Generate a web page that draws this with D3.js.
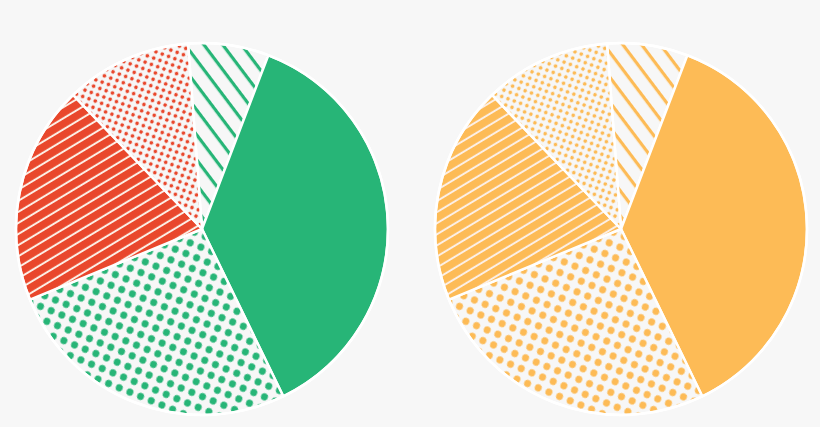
<!DOCTYPE html>
<html>
<head>
<meta charset="utf-8">
<script src="https://cdn.jsdelivr.net/npm/d3@7"></script>
<style>
  body { margin: 0; background: #f7f7f7; }
  svg { display: block; }
</style>
</head>
<body>
<svg class="main"></svg>
<script>
// slice data, clockwise from just left of 12 o'clock
let sliceNames = ["thinStripes", "solid", "bigDots", "wideStripes", "smallDots"],
    leftValues = [7, 37, 26, 19, 11],
    rightValues = [7, 37, 26, 19, 11],
    leftColors = ["#27b577", "#27b577", "#27b577", "#e9472c", "#e9472c"],
    rightColors = ["#fdbb56", "#fdbb56", "#fdbb56", "#fdbb56", "#fdbb56"];

let w = 820, h = 427, r = 186, bg = "#f7f7f7";

let svg = d3.select('.main')
    .attr("width", w)
    .attr("height", h)
    .style('background-color', bg)

let defs = svg.append('defs')

// one pattern per kind + colour
let makePattern = (kind, color) => {
    let id = kind + color.replace('#', '');
    if (!defs.select('#' + id).empty()) return id;
    let p = defs.append('pattern')
        .attr('id', id)
        .attr('patternUnits', 'userSpaceOnUse');
    if (kind === "thinStripes") {
        p.attr('width', 15).attr('height', 15).attr('patternTransform', 'rotate(53)')
        p.append('rect').attr('width', 15).attr('height', 15).attr('fill', bg)
        p.append('rect').attr('y', 6).attr('width', 15).attr('height', 3.2).attr('fill', color)
    } else if (kind === "wideStripes") {
        p.attr('width', 9.5).attr('height', 9.5).attr('patternTransform', 'rotate(-31)')
        p.append('rect').attr('width', 9.5).attr('height', 9.5).attr('fill', color)
        p.append('rect').attr('y', 3.7).attr('width', 9.5).attr('height', 2).attr('fill', '#fcefe6')
    } else if (kind === "bigDots") {
        p.attr('width', 11.5).attr('height', 11.5).attr('patternTransform', 'rotate(22)')
        p.append('rect').attr('width', 11.5).attr('height', 11.5).attr('fill', bg)
        p.append('circle').attr('cx', 5.75).attr('cy', 5.75).attr('r', 3.5).attr('fill', color)
    } else if (kind === "smallDots") {
        p.attr('width', 6.7).attr('height', 6.7).attr('patternTransform', 'rotate(20)')
        p.append('rect').attr('width', 6.7).attr('height', 6.7).attr('fill', bg)
        p.append('circle').attr('cx', 3.35).attr('cy', 3.35).attr('r', 1.8).attr('fill', color)
    }
    return id;
}

let start = -4.3 * Math.PI / 180;

let pie = d3.pie()
    .sort(null)
    .value(d => d.value)
    .startAngle(start)
    .endAngle(start + 2 * Math.PI)

let arc = d3.arc().innerRadius(0).outerRadius(r)

let drawPie = (cx, cy, values, colors) => {
    let data = sliceNames.map((n, i) => ({ name: n, value: values[i], color: colors[i] }))
    let g = svg.append('g').attr('transform', `translate(${cx},${cy})`)

    g.selectAll('path')
        .data(pie(data))
        .enter()
        .append('path')
        .attr('d', arc)
        .attr('fill', d => d.data.name === "solid" ? d.data.color : `url(#${makePattern(d.data.name, d.data.color)})`)
        .attr('stroke', '#fff')
        .attr('stroke-width', 2.5)
        .attr('stroke-linejoin', 'round')

    g.append('circle')
        .attr('r', r)
        .attr('fill', 'none')
        .attr('stroke', '#fff')
        .attr('stroke-width', 2.5)
}

drawPie(202, 229, leftValues, leftColors)
drawPie(621, 229, rightValues, rightColors)
</script>
</body>
</html>
